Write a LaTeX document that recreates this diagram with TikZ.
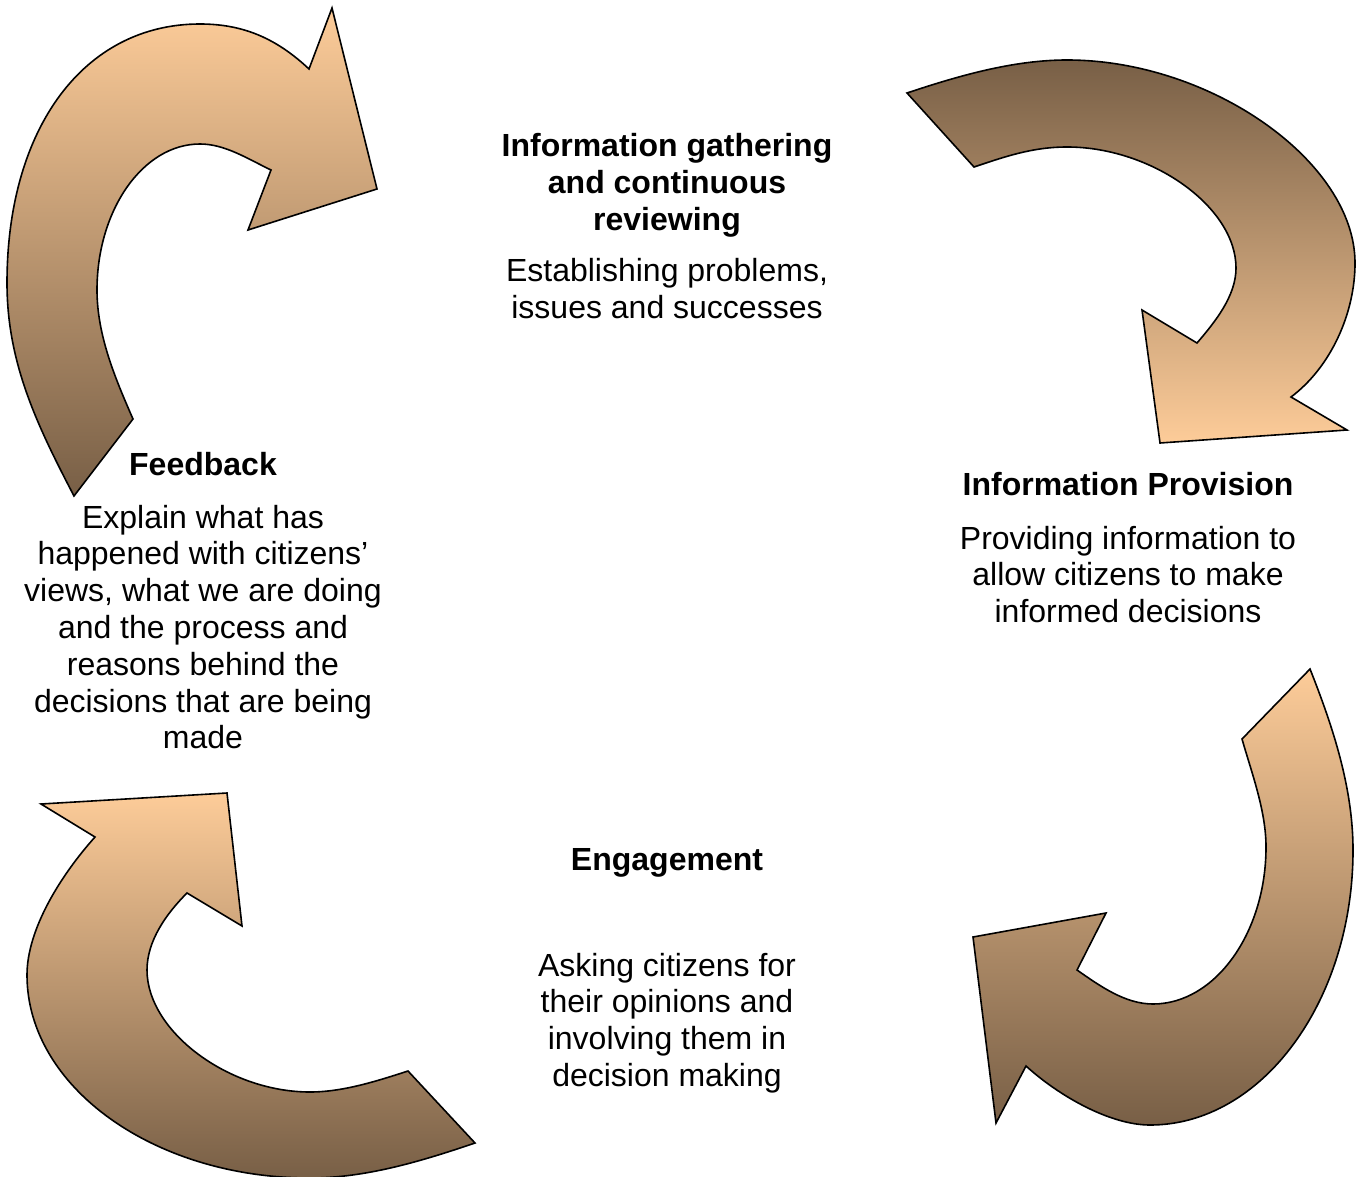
\documentclass[tikz,border=0pt]{standalone}
\usepackage{fontspec}
\setmainfont{Liberation Sans}
\definecolor{peach}{RGB}{253,204,153}
\definecolor{umber}{RGB}{120,95,70}
\newcommand{\mylines}[1]{\begin{tabular}[t]{@{}c@{}}#1\end{tabular}}
\begin{document}
\begin{tikzpicture}[x=0.5pt,y=-0.5pt,
  arrowup/.style={draw=black, line width=0.8pt, line join=miter, top color=peach, bottom color=umber},
  arrowdown/.style={draw=black, line width=0.8pt, line join=miter, top color=umber, bottom color=peach},
  txt/.style={anchor=base, inner sep=0pt, font=\fontsize{16pt}{18.4pt}\selectfont},
  ttl/.style={anchor=base, inner sep=0pt, font=\fontsize{16pt}{18.4pt}\selectfont\bfseries}]
\useasboundingbox (0,0) rectangle (1363,1176);

% top-left arrow
\draw[arrowup] (74,496) .. controls (37,425) and (7,363) .. (7,283)
  .. controls (7,128) and (84,24) .. (200,24)
  .. controls (244,24) and (277,39) .. (309,69)
  -- (332,8) -- (377,189) -- (248,230) -- (271,170)
  .. controls (248,159) and (225,144) .. (200,144)
  .. controls (143,144) and (97,210) .. (97,290)
  .. controls (97,335) and (115,378) .. (133,419)
  -- cycle;

% top-right arrow
\draw[arrowdown] (907,93) .. controls (958,76) and (1013,60) .. (1067,60)
  .. controls (1211,60) and (1355,162) .. (1355,263)
  .. controls (1355,313) and (1331,367) .. (1291,397)
  -- (1347,430) -- (1160,443) -- (1142,310) -- (1197,343)
  .. controls (1215,322) and (1236,296) .. (1236,268)
  .. controls (1236,207) and (1152,147) .. (1067,147)
  .. controls (1032,147) and (1004,157) .. (974,167)
  -- cycle;

% bottom-right arrow
\draw[arrowup] (1310,669) .. controls (1333,727) and (1353,788) .. (1353,850)
  .. controls (1353,1001) and (1262,1125) .. (1150,1125)
  .. controls (1110,1125) and (1059,1096) .. (1026,1066)
  -- (996,1123) -- (973,937) -- (1106,913) -- (1077,970)
  .. controls (1100,986) and (1125,1004) .. (1153,1004)
  .. controls (1215,1004) and (1266,933) .. (1266,847)
  .. controls (1266,811) and (1252,774) .. (1242,739)
  -- cycle;

% bottom-left arrow
\draw[arrowup] (475,1143) .. controls (422,1161) and (366,1178) .. (310,1178)
  .. controls (154,1178) and (27,1087) .. (27,975)
  .. controls (27,929) and (61,875) .. (95,837)
  -- (41,804) -- (227,793) -- (242,926) -- (187,893)
  .. controls (166,914) and (147,941) .. (147,970)
  .. controls (147,1031) and (228,1092) .. (310,1092)
  .. controls (343,1092) and (377,1081) .. (408,1071)
  -- cycle;

% texts
\node[ttl] (gathT) at (667,157) {\mylines{Information gathering\\and continuous\\reviewing}};
\node[txt] (gathB) at (667,282) {\mylines{Establishing problems,\\issues and successes}};

\node[ttl] (provT) at (1128,495) {Information Provision};
\node[txt] (provB) at (1128,549) {\mylines{Providing information to\\allow citizens to make\\informed decisions}};

\node[ttl] (engT) at (667,870) {Engagement};
\node[txt] (engB) at (667,976) {\mylines{Asking citizens for\\their opinions and\\involving them in\\decision making}};

\node[ttl] (feedT) at (203,475) {Feedback};
\node[txt] (feedB) at (203,528) {\mylines{Explain what has\\happened with citizens’\\views, what we are doing\\and the process and\\reasons behind the\\decisions that are being\\made}};
\end{tikzpicture}
\end{document}
